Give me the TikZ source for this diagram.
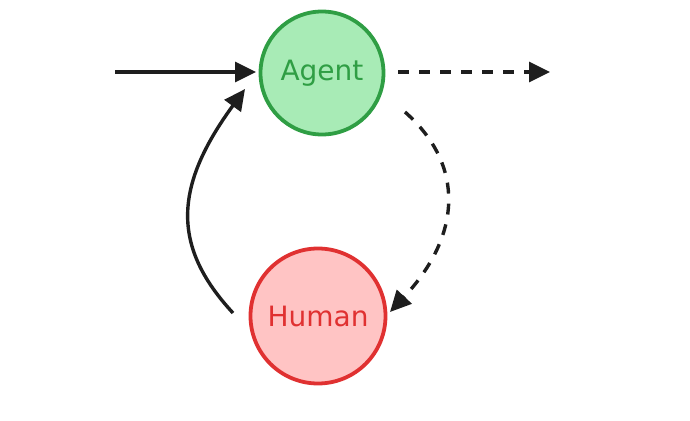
\documentclass[tikz,border=0pt]{standalone}
\usepackage{fontspec}
\setmainfont{DejaVu Sans}
\usetikzlibrary{arrows.meta}
\definecolor{agentfill}{HTML}{A8EBB6}
\definecolor{agentline}{HTML}{2F9E44}
\definecolor{humanfill}{HTML}{FFC4C4}
\definecolor{humanline}{HTML}{E03131}
\definecolor{ink}{HTML}{1E1E1E}
\tikzset{
  state/.style={circle, line width=3.8pt, inner sep=0pt, font=\fontsize{28}{32}\selectfont},
  conn/.style={line width=3.4pt, draw=ink, -{Triangle[length=21pt,width=20pt]}, shorten >=0pt},
  dashconn/.style={conn, dash pattern=on 11pt off 10pt}
}
\begin{document}
\begin{tikzpicture}[x=1pt,y=-1pt]
\useasboundingbox (0,0) rectangle (690,420);
\node[state, draw=agentline, fill=agentfill, text=agentline, minimum size=123pt] (agent) at (322,73) {Agent};
\node[state, draw=humanline, fill=humanfill, text=humanline, minimum size=135pt] (human) at (318,316) {Human};
\coordinate (in) at (115,72);
\coordinate (ina) at (256,72);
\coordinate (outs) at (398,72);
\coordinate (oute) at (550,72);
\coordinate (ds) at (405,112);
\coordinate (de) at (390,312);
\coordinate (ss) at (233,313);
\coordinate (se) at (245,89);
\draw[conn] (in) -- (ina);
\draw[dashconn] (outs) -- (oute);
\draw[dashconn] (ds) .. controls (465,165) and (462,235) .. (de);
\draw[conn] (ss) .. controls (170,245) and (175,185) .. (se);
\end{tikzpicture}
\end{document}
